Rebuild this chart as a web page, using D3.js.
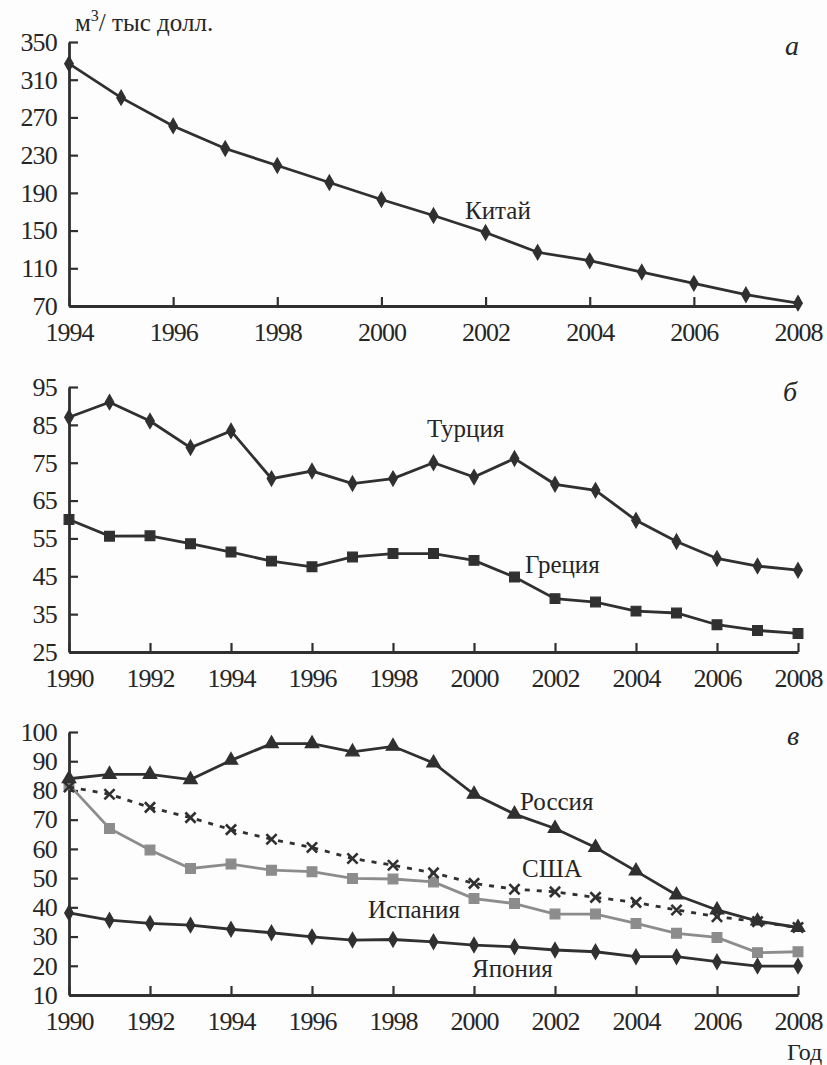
<!DOCTYPE html>
<html>
<head>
<meta charset="utf-8">
<script src="https://cdn.jsdelivr.net/npm/d3@7"></script>
<style>
  body { margin: 0; background: #fdfdfd; }
  svg text { font-family: "Liberation Serif", "DejaVu Serif", serif; fill: #262626; }
</style>
</head>
<body>
<div class="canvas"></div>
<script>
// Data
const yearsA = d3.range(1994, 2009);
const yearsB = d3.range(1990, 2009);

const china = [327, 291, 261, 237, 219, 201, 183, 166, 148, 127, 118, 106, 94, 82, 73];

const turkey = [87, 91, 86, 79, 83.4, 70.8, 72.8, 69.5, 70.8, 75, 71.2, 76.1, 69.3, 67.7, 59.8, 54.2, 49.7, 47.7, 46.6];
const greece = [60, 55.6, 55.7, 53.6, 51.4, 49, 47.5, 50.1, 51, 51, 49.2, 44.8, 39.1, 38.2, 35.8, 35.3, 32.2, 30.7, 29.9];

const russia = [84, 85.5, 85.5, 83.7, 90.3, 96, 96, 93.2, 95.1, 89.4, 78.7, 71.9, 67, 60.5, 52.4, 44.2, 39.1, 35.3, 33.1];
const usa = [81.2, 78.7, 74.2, 70.7, 66.6, 63.3, 60.5, 56.7, 54.4, 51.8, 48.2, 46.2, 45.3, 43.4, 41.7, 39.1, 36.8, 35.1, 33.1];
const spain = [82, 67, 59.6, 53.3, 54.8, 52.7, 52.2, 49.9, 49.7, 48.7, 43, 41.3, 37.7, 37.7, 34.5, 31.1, 29.7, 24.5, 24.8];
const japan = [38.1, 35.6, 34.5, 33.9, 32.5, 31.3, 29.9, 28.8, 29, 28.2, 27.1, 26.5, 25.4, 24.8, 23.1, 23.1, 21.4, 19.9, 19.9];

const ticksA = d3.range(70, 351, 40);
const ticksB = d3.range(25, 96, 10);
const ticksC = d3.range(10, 101, 10);

// Set up
const svgWidth = 827;
const svgHeight = 1065;
const ink = '#303030';
const serif = '"Liberation Serif", "DejaVu Serif", serif';

const svg = d3.select('.canvas')
    .append('svg')
    .attr('width', svgWidth)
    .attr('height', svgHeight);

svg.append('rect')
    .attr('width', svgWidth)
    .attr('height', svgHeight)
    .attr('fill', '#fdfdfd');

const drawPanel = (p) => {
    const x = d3.scaleLinear().domain(p.xDomain).range([69, 798]);
    const y = d3.scaleLinear().domain(p.yDomain).range([p.bottom, p.top]);

    const g = svg.append('g');

    const xAxis = d3.axisBottom(x)
        .tickValues(d3.range(p.xDomain[0], p.xDomain[1] + 1, 2))
        .tickFormat(d3.format('d'))
        .tickSize(-9)
        .tickSizeOuter(0)
        .tickPadding(17);

    const yAxis = d3.axisLeft(y)
        .tickValues(p.yTicks)
        .tickSize(-9)
        .tickSizeOuter(0)
        .tickPadding(12);

    const xg = g.append('g')
        .attr('transform', `translate(0,${p.bottom})`)
        .call(xAxis);
    const yg = g.append('g')
        .attr('transform', 'translate(69,0)')
        .call(yAxis);

    [xg, yg].forEach(a => {
        a.attr('font-family', serif).attr('font-size', 26);
        a.select('.domain').attr('stroke', ink).attr('stroke-width', 2.8);
        a.selectAll('.tick line').attr('stroke', ink).attr('stroke-width', 2.2);
        a.selectAll('.tick text')
            .style('font-family', serif)
            .style('font-size', '26px')
            .attr('fill', '#262626');
    });
    xg.selectAll('.tick text').style('letter-spacing', '-1px');
    yg.selectAll('.tick text').style('letter-spacing', '-0.8px');

    const line = d3.line()
        .x((d, i) => x(p.years[i]))
        .y(d => y(d));

    p.series.forEach(s => {
        g.append('path')
            .datum(s.values)
            .attr('fill', 'none')
            .attr('stroke', s.color)
            .attr('stroke-width', 2.8)
            .attr('stroke-dasharray', s.dash || null)
            .attr('d', line);

        const sym = d3.symbol().type(s.symbol).size(s.size);
        g.selectAll(null)
            .data(s.values)
            .enter()
            .append('path')
            .attr('d', sym)
            .attr('transform', (d, i) => `translate(${x(p.years[i])},${y(d)})`)
            .attr('fill', s.symbol === d3.symbolTimes ? 'none' : s.color)
            .attr('stroke', s.color)
            .attr('stroke-width', s.symbol === d3.symbolTimes ? 2.6 : 1.2);
    });

    p.labels.forEach(l => {
        g.append('text')
            .attr('x', l.x)
            .attr('y', l.y)
            .style('font-family', serif)
            .style('font-size', l.size || '25px')
            .style('font-style', l.italic ? 'italic' : null)
            .text(l.text);
    });
};

drawPanel({
    xDomain: [1994, 2008], yDomain: [70, 350], top: 42, bottom: 306,
    yTicks: ticksA, years: yearsA,
    series: [
        {values: china, color: ink, symbol: d3.symbolDiamond, size: 65}
    ],
    labels: [
        {text: 'Китай', x: 465, y: 219},
        {text: 'а', x: 785, y: 55, italic: true, size: '28px'}
    ]
});

drawPanel({
    xDomain: [1990, 2008], yDomain: [25, 95], top: 387, bottom: 652,
    yTicks: ticksB, years: yearsB,
    series: [
        {values: turkey, color: ink, symbol: d3.symbolDiamond, size: 65},
        {values: greece, color: ink, symbol: d3.symbolSquare, size: 95}
    ],
    labels: [
        {text: 'Турция', x: 427, y: 437},
        {text: 'Греция', x: 525, y: 573},
        {text: 'б', x: 783, y: 401, italic: true, size: '28px'}
    ]
});

drawPanel({
    xDomain: [1990, 2008], yDomain: [10, 100], top: 732, bottom: 995,
    yTicks: ticksC, years: yearsB,
    series: [
        {values: spain, color: '#8c8c8c', symbol: d3.symbolSquare, size: 95},
        {values: usa, color: ink, symbol: d3.symbolTimes, size: 70, dash: '5,7'},
        {values: russia, color: ink, symbol: d3.symbolTriangle, size: 80},
        {values: japan, color: ink, symbol: d3.symbolDiamond, size: 65}
    ],
    labels: [
        {text: 'Россия', x: 520, y: 810},
        {text: 'США', x: 522, y: 877},
        {text: 'Испания', x: 368, y: 918},
        {text: 'Япония', x: 472, y: 977},
        {text: 'в', x: 787, y: 745, italic: true, size: '28px'}
    ]
});

// Unit and axis title
const unit = svg.append('text')
    .attr('x', 75)
    .attr('y', 31)
    .style('font-family', serif)
    .style('font-size', '25px');
unit.append('tspan').text('м');
unit.append('tspan').attr('dy', -10).style('font-size', '16px').text('3');
unit.append('tspan').attr('dy', 10).text('/ тыс долл.');

svg.append('text')
    .attr('x', 787)
    .attr('y', 1060)
    .style('font-family', serif)
    .style('font-size', '24px')
    .text('Год');
</script>
</body>
</html>
